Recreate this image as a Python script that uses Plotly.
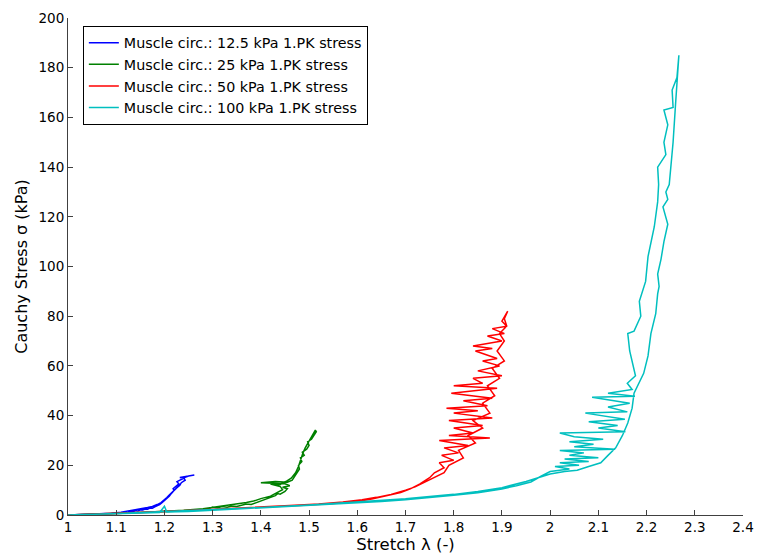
import plotly.graph_objects as go

# ---- data ----
x_ticks = [1.0, 1.1, 1.2, 1.3, 1.4, 1.5, 1.6, 1.7, 1.8, 1.9, 2.0, 2.1, 2.2, 2.3, 2.4]
x_tick_labels = ["1", "1.1", "1.2", "1.3", "1.4", "1.5", "1.6", "1.7", "1.8", "1.9",
                 "2", "2.1", "2.2", "2.3", "2.4"]
y_ticks = [0, 20, 40, 60, 80, 100, 120, 140, 160, 180, 200]

names = ["Muscle circ.: 12.5 kPa 1.PK stress", "Muscle circ.: 25 kPa 1.PK stress",
         "Muscle circ.: 50 kPa 1.PK stress", "Muscle circ.: 100 kPa 1.PK stress"]
colors = ["#0000FF", "#008000", "#FF0000", "#00BFBF"]

blue_x = [1.00, 1.03, 1.06, 1.09, 1.11, 1.12, 1.125, 1.13, 1.135, 1.14, 1.145, 1.15, 1.155,
          1.16, 1.165, 1.17, 1.175, 1.18, 1.185, 1.19, 1.195, 1.20, 1.205, 1.21, 1.215, 1.22,
          1.218, 1.225, 1.23, 1.226, 1.235, 1.24, 1.232, 1.245, 1.255, 1.262, 1.25, 1.24,
          1.243, 1.235, 1.232, 1.226, 1.22, 1.215, 1.21, 1.205, 1.20, 1.193, 1.185, 1.175,
          1.165, 1.155, 1.14, 1.125, 1.11, 1.09, 1.06, 1.03, 1.00]
blue_y = [0.0, 0.2, 0.3, 0.5, 0.8, 1.2, 0.9, 1.5, 1.3, 1.8, 1.6, 2.1, 2.0,
          2.4, 2.3, 2.8, 2.7, 3.3, 3.6, 4.2, 5.0, 5.8, 6.5, 7.6, 8.8, 9.9,
          10.6, 11.5, 12.5, 13.4, 14.2, 14.8, 15.1, 15.6, 16.0, 16.1, 15.7, 15.0,
          14.0, 13.0, 12.0, 11.0, 10.0, 9.0, 8.0, 7.0, 6.0, 5.0, 4.2, 3.4,
          3.0, 2.6, 2.1, 1.6, 1.1, 0.7, 0.4, 0.2, 0.0]

green_x = [1.00, 1.05, 1.10, 1.15, 1.20, 1.25, 1.29, 1.30, 1.31, 1.32, 1.33, 1.34, 1.35,
           1.36, 1.37, 1.38, 1.39, 1.40, 1.41, 1.42, 1.43, 1.435, 1.44, 1.45, 1.455, 1.445,
           1.46, 1.45, 1.40, 1.43, 1.455, 1.465, 1.47, 1.475, 1.48, 1.478, 1.485, 1.482,
           1.49, 1.486, 1.495, 1.50, 1.497, 1.505, 1.51, 1.515, 1.513,
           1.508, 1.503, 1.498, 1.492, 1.487, 1.483, 1.478, 1.472, 1.463, 1.455, 1.44,
           1.42, 1.44, 1.445, 1.438, 1.43, 1.42, 1.40, 1.385, 1.37, 1.355, 1.34, 1.32,
           1.30, 1.28, 1.24, 1.20, 1.15, 1.10, 1.05, 1.00]
green_y = [0.0, 0.3, 0.6, 0.9, 1.3, 1.7, 2.3, 3.2, 2.9, 3.4, 3.1, 3.6, 3.4,
           4.0, 4.4, 4.2, 4.9, 5.6, 6.4, 7.0, 7.8, 8.6, 8.4, 9.5, 10.6, 11.2,
           11.8, 12.6, 13.0, 13.5, 13.2, 14.0, 15.5, 17.0, 18.5, 20.0, 21.5, 23.0,
           24.0, 25.3, 26.5, 28.0, 29.5, 30.5, 32.0, 33.5, 34.2,
           32.5, 31.0, 29.0, 27.0, 24.8, 22.0, 19.5, 17.0, 14.8, 13.8, 12.3,
           12.5, 11.5, 10.2, 9.5, 8.5, 7.6, 6.6, 5.6, 5.0, 4.6, 4.3, 3.8,
           3.3, 2.5, 1.9, 1.4, 1.0, 0.6, 0.3, 0.0]

red_x = [1.00, 1.05, 1.10, 1.15, 1.20, 1.25, 1.30, 1.35, 1.40, 1.45, 1.50, 1.55, 1.60,
         1.63, 1.66, 1.69, 1.71, 1.73, 1.75, 1.76, 1.78, 1.77, 1.80, 1.775, 1.81, 1.78,
         1.83, 1.77, 1.875, 1.79, 1.84, 1.80, 1.86, 1.79, 1.88, 1.80, 1.85, 1.785, 1.87,
         1.82, 1.88, 1.795, 1.89, 1.80, 1.86, 1.84, 1.90, 1.85, 1.895, 1.86, 1.89, 1.845,
         1.88, 1.84, 1.90, 1.87, 1.905, 1.88, 1.91, 1.90, 1.912,
         1.905, 1.91, 1.895, 1.905, 1.89, 1.905, 1.88, 1.895, 1.87, 1.885, 1.86, 1.875,
         1.84, 1.86, 1.83, 1.845, 1.81, 1.82, 1.79, 1.78, 1.76, 1.74, 1.72, 1.70, 1.67,
         1.64, 1.61, 1.57, 1.52, 1.46, 1.40, 1.33, 1.25, 1.17, 1.10, 1.00]
red_y = [0.0, 0.3, 0.7, 1.0, 1.4, 1.8, 2.2, 2.6, 3.0, 3.5, 4.0, 4.6, 5.4,
         6.4, 7.6, 9.0, 10.5, 12.5, 15.0, 17.0, 19.0, 21.0, 22.0, 24.0, 25.0, 27.0,
         28.0, 30.0, 31.0, 32.0, 33.0, 35.0, 36.0, 38.0, 39.0, 41.0, 42.0, 43.0, 44.0,
         46.0, 47.0, 49.0, 51.0, 52.0, 53.0, 55.0, 56.0, 58.0, 60.0, 62.0, 63.0, 66.0,
         67.0, 68.0, 70.0, 72.0, 73.0, 75.0, 76.0, 78.0, 82.0,
         79.0, 76.0, 73.0, 70.0, 66.0, 62.0, 59.0, 55.0, 52.0, 48.0, 45.0, 41.0,
         38.0, 35.0, 32.0, 29.0, 26.0, 23.0, 20.0, 17.0, 15.0, 13.0, 11.3, 10.0, 8.3,
         7.1, 6.1, 5.2, 4.4, 3.8, 3.2, 2.5, 1.8, 1.1, 0.6, 0.0]

cyan_x = [1.00, 1.05, 1.10, 1.15, 1.19, 1.20, 1.205, 1.25, 1.30, 1.35, 1.40, 1.45, 1.50,
          1.55, 1.60, 1.65, 1.70, 1.75, 1.80, 1.85, 1.90, 1.93, 1.96, 1.98, 2.00, 2.04,
          2.01, 2.06, 2.02, 2.08, 2.03, 2.10, 2.04, 2.07, 2.02, 2.135, 2.05, 2.09, 2.04,
          2.11, 2.05, 2.02, 2.156, 2.10, 2.14, 2.08, 2.155, 2.073, 2.16, 2.12, 2.165,
          2.087, 2.176, 2.12, 2.17, 2.16, 2.177,
          2.165, 2.161, 2.174, 2.188, 2.185, 2.198, 2.203, 2.21, 2.216, 2.223,
          2.225, 2.223, 2.24, 2.236, 2.244, 2.236, 2.255, 2.253, 2.263, 2.267,
          2.265, 2.26, 2.255, 2.25, 2.247, 2.24, 2.244, 2.234, 2.244, 2.236, 2.23, 2.223,
          2.226, 2.223, 2.219, 2.209, 2.203, 2.194, 2.174, 2.17, 2.161, 2.15, 2.136, 2.12,
          2.105, 2.08, 2.056, 2.03, 2.00, 1.95, 1.90, 1.85, 1.80, 1.70, 1.60, 1.50, 1.40,
          1.30, 1.20, 1.10, 1.00]
cyan_y = [0.0, 0.3, 0.5, 0.8, 1.0, 3.5, 1.2, 1.4, 1.9, 2.3, 2.8, 3.2, 3.7,
          4.2, 4.8, 5.4, 6.1, 6.9, 7.9, 9.0, 10.5, 11.8, 13.3, 15.5, 17.5, 18.5,
          19.5, 20.0, 21.0, 21.5, 22.5, 23.0, 24.0, 25.0, 26.0, 26.5, 27.5, 28.5, 29.5,
          30.5, 31.5, 33.0, 33.5, 35.0, 36.0, 37.5, 38.5, 41.0, 41.5, 43.5, 45.0,
          47.4, 47.8, 49.0, 50.5, 53.0, 56.0,
          66.0, 73.0, 74.0, 80.0, 86.0, 94.0, 104.0, 110.0, 116.0, 126.0,
          133.0, 140.0, 145.0, 150.0, 157.0, 163.0, 164.0, 171.0, 176.0, 185.0,
          178.0, 165.0, 150.0, 140.0, 133.0, 130.0, 127.0, 124.0, 117.0, 110.0, 103.0, 97.0,
          92.0, 89.0, 81.0, 73.0, 64.0, 57.0, 49.0, 43.0, 37.0, 32.0, 27.0, 24.0,
          21.0, 19.5, 18.0, 17.5, 16.5, 13.5, 11.0, 9.5, 8.3, 6.5, 5.1, 4.0, 3.0,
          2.1, 1.3, 0.6, 0.0]

series_x = [blue_x, green_x, red_x, cyan_x]
series_y = [blue_y, green_y, red_y, cyan_y]

fig = go.Figure()
for xs, ys, nm, col in zip(series_x, series_y, names, colors):
    fig.add_trace(go.Scatter(x=xs, y=ys, mode="lines", name=nm,
                             line=dict(color=col, width=1.5)))

font_family = "DejaVu Sans"
axis_col = "#404040"
fig.update_layout(
    width=757, height=559,
    margin=dict(l=68, r=14, t=18, b=44),
    paper_bgcolor="white", plot_bgcolor="white",
    font=dict(family=font_family, size=14, color="black"),
    showlegend=True,
    legend=dict(x=0.022, y=0.984, xanchor="left", yanchor="top",
                bordercolor="black", borderwidth=1, bgcolor="white",
                font=dict(family=font_family, size=14.3, color="black"),
                tracegroupgap=0, itemwidth=30),
    xaxis=dict(range=[1, 2.4], tickvals=x_ticks, ticktext=x_tick_labels,
               showgrid=False, zeroline=False, showline=True, linecolor=axis_col,
               linewidth=1, ticks="inside", ticklen=5, tickcolor=axis_col,
               tickfont=dict(size=13.5), automargin=False,
               title=dict(text="Stretch λ (-)", font=dict(size=16.5), standoff=2)),
    yaxis=dict(range=[0, 200], tickvals=y_ticks,
               showgrid=False, zeroline=False, showline=True, linecolor=axis_col,
               linewidth=1, ticks="inside", ticklen=5, tickcolor=axis_col,
               tickfont=dict(size=13.5), automargin=False,
               title=dict(text="Cauchy Stress σ (kPa)", font=dict(size=16), standoff=6)),
)

fig.write_html("out.html")
